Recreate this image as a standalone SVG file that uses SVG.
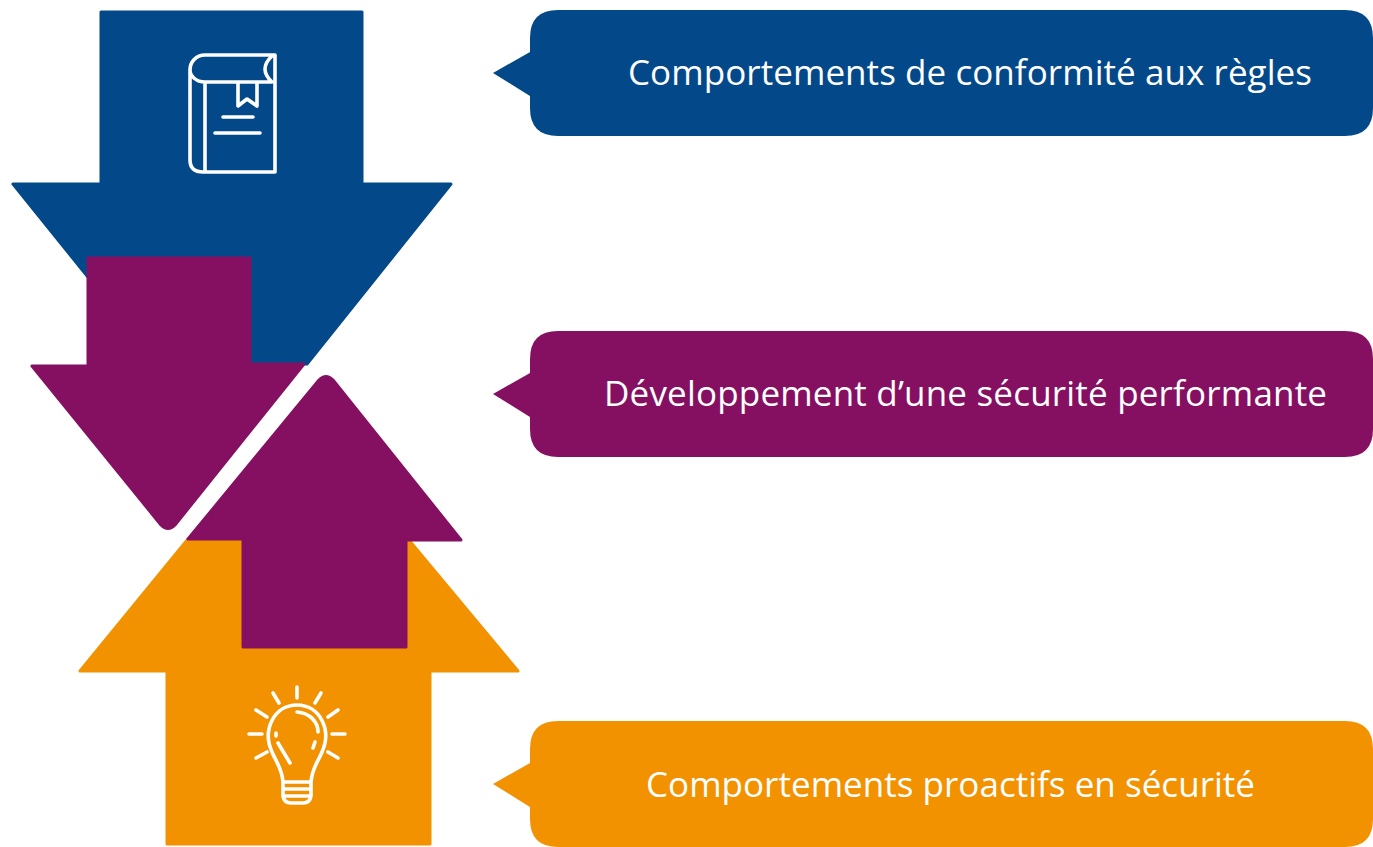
<svg xmlns="http://www.w3.org/2000/svg" width="1373" height="847" viewBox="0 0 1373 847">
<style>
.blue{fill:#03498a}.plum{fill:#851062}.orange{fill:#f39200}
.j{stroke-width:3;stroke-linejoin:round}
.blue.j{stroke:#03498a}.plum.j{stroke:#851062}.orange.j{stroke:#f39200}
.t{fill:#fff;font-family:"Open Sans","Noto Sans","Liberation Sans",sans-serif;font-size:35px;font-weight:500}
.i{fill:none;stroke:#fff;stroke-width:3.6;stroke-linecap:round;stroke-linejoin:round}
</style>
<rect width="1373" height="847" fill="#fff"/>
<g id="connectors"></g>
<g id="arrow-blue"><path class="blue j" d="M101 12H362V184H451L307 364H250V300H100V292L13 184H101Z"/></g>
<g id="arrow-orange"><path class="orange j" d="M188 539H408L518 671H430V844H167V671H80Z"/></g>
<g id="arrow-plum-down"><path class="plum j" d="M88 258H250V364H304L175 525Q168 532 161 525L32 366H88Z"/></g>
<g id="arrow-plum-up"><path class="plum j" d="M243 647H406V540H461L333 380Q326 373 319 380L188 539H243Z"/></g>
<g id="icon-book"><path class="i" d="M275 55H205C196 55 190 62 190 70V160Q190 172 203 172H275V55M190 70C190 76 196 82 205 82H272Q258 69 272 56M205 82V172M238 82V106L247 99L257 106V82M223 117H253M215 133H260"/></g>
<g id="icon-bulb"><path class="i" d="M283 782C282 768 276 762 272 752C262 730 274 705 297 705C320 705 332 730 322 752C318 762 312 768 311 782H283V796Q284 803 291 803H303Q310 803 311 796V782M284 789H311M284 796H311M276 733V736M278 743L290 763M297 712C310 713 318 722 318 732M315 742L313 748M297 687V698M273 693L279 703M321 693L315 703M256 710L267 717M338 710L328 717M249 734H262M332 734H345M256 758L267 752M338 758L328 752"/></g>
<g id="callout-1"><path class="blue" d="M558 10H1345Q1373 10 1373 38V108Q1373 136 1345 136H558Q530 136 530 108V96L493 73L530 52V38Q530 10 558 10Z"/><text class="t" x="628" y="85" textLength="684">Comportements de conformité aux règles</text></g>
<g id="callout-2"><path class="plum" d="M558 331H1345Q1373 331 1373 359V429Q1373 457 1345 457H558Q530 457 530 429V417L493 394L530 373V359Q530 331 558 331Z"/><text class="t" x="604" y="406" textLength="723">Développement d’une sécurité performante</text></g>
<g id="callout-3"><path class="orange" d="M558 721H1345Q1373 721 1373 749V819Q1373 847 1345 847H558Q530 847 530 819V807L493 784L530 763V749Q530 721 558 721Z"/><text class="t" x="646" y="797" textLength="609">Comportements proactifs en sécurité</text></g>
</svg>
